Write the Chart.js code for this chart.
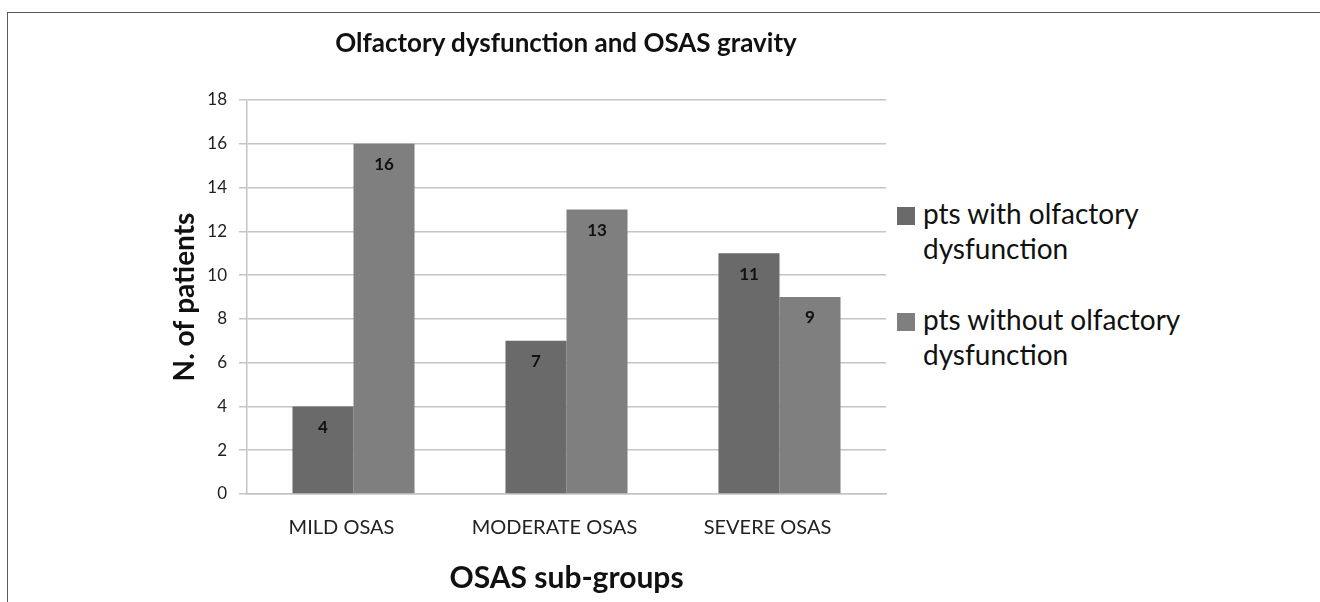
<!DOCTYPE html>
<html>
<head>
<meta charset="utf-8">
<script src="https://cdn.jsdelivr.net/npm/chart.js@4"></script>
<style>
  body { margin: 0; background: #fff; font-family: Lato, sans-serif; }
  #wrap { position: relative; width: 1320px; height: 602px; overflow: hidden; }
  #frame { position: absolute; left: 7px; top: 12px; width: 1400px; height: 700px; border: 1.5px solid #5a5a5a; }
  #title { position: absolute; top: 26px; left: 0; width: 1132px; text-align: center; font-weight: bold; font-size: 26px; color: #111; }
  #legend { position: absolute; left: 897px; top: 196px; font-size: 28px; color: #111; line-height: 35px; background: #fff; padding-right: 10px; }
  #legend .item { position: relative; padding-left: 26px; margin-bottom: 36px; }
  #legend .box { position: absolute; left: 0; top: 11px; width: 18px; height: 18px; }
  canvas { position: absolute; left: 0; top: 0; }
</style>
</head>
<body>
<div id="wrap">
  <div id="frame"></div>
  <canvas id="chart" width="1320" height="602"></canvas>
  <div id="title">Olfactory dysfunction and OSAS gravity</div>
  <div id="legend"></div>
</div>
<script>
const categories = ['MILD OSAS', 'MODERATE OSAS', 'SEVERE OSAS'];
const withDysfunction = [4, 7, 11];
const withoutDysfunction = [16, 13, 9];
const seriesNames = ['pts with olfactory dysfunction', 'pts without olfactory dysfunction'];
const legendLines = [['pts with olfactory', 'dysfunction'], ['pts without olfactory', 'dysfunction']];
const colors = ['#6a6a6a', '#7f7f7f'];

// legend (two-line labels)
const legend = document.getElementById('legend');
legendLines.forEach((lines, i) => {
    const div = document.createElement('div');
    div.className = 'item';
    div.innerHTML = `<span class="box" style="background:${colors[i]}"></span>${lines.join('<br>')}`;
    legend.appendChild(div);
});

const barLabels = {
    id: 'barLabels',
    afterDatasetsDraw(chart) {
        const ctx = chart.ctx;
        ctx.save();
        ctx.font = 'bold 17px Lato, sans-serif';
        ctx.fillStyle = '#111';
        ctx.textAlign = 'center';
        ctx.textBaseline = 'middle';
        chart.data.datasets.forEach((ds, di) => {
            chart.getDatasetMeta(di).data.forEach((bar, i) => {
                ctx.fillText(ds.data[i], bar.x, bar.y + 21);
            });
        });
        ctx.restore();
    }
};

new Chart(document.getElementById('chart'), {
    type: 'bar',
    data: {
        labels: categories,
        datasets: [
            { label: seriesNames[0], data: withDysfunction, backgroundColor: colors[0] },
            { label: seriesNames[1], data: withoutDysfunction, backgroundColor: colors[1] }
        ]
    },
    options: {
        responsive: false,
        animation: false,
        layout: { padding: { left: 164, right: 434, top: 100, bottom: 2 } },
        datasets: { bar: { categoryPercentage: 0.573, barPercentage: 1.0 } },
        plugins: {
            legend: { display: false },
            title: { display: false },
            tooltip: { enabled: false }
        },
        scales: {
            x: {
                afterFit(scale) { scale.height = 106; },
                grid: { display: false, drawTicks: false },
                border: { display: true, color: '#c4c4c4', width: 1.5 },
                ticks: { color: '#222', font: { family: 'Lato', size: 20 }, padding: 22, labelOffset: -12 },
                title: { display: true, text: 'OSAS sub-groups', color: '#111', font: { family: 'Lato', size: 30, weight: 'bold' } }
            },
            y: {
                min: 0, max: 18,
                afterFit(scale) { scale.width = 83; },
                grid: { color: '#c4c4c4', lineWidth: 1.5, tickLength: 8 },
                border: { display: true, color: '#c4c4c4', width: 1.5 },
                ticks: { stepSize: 2, color: '#222', font: { family: 'Lato', size: 17 }, padding: 12 },
                title: { display: true, text: 'N. of patients', color: '#111', font: { family: 'Lato', size: 28, weight: 'bold' } }
            }
        }
    },
    plugins: [barLabels]
});
</script>
</body>
</html>
